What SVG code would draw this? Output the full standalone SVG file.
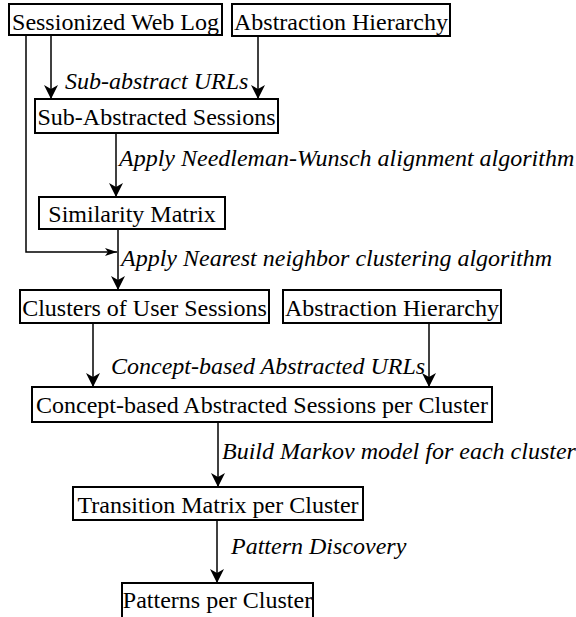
<svg xmlns="http://www.w3.org/2000/svg" width="576" height="617" viewBox="0 0 576 617">
<style>
.box{fill:#fff;stroke:#000;stroke-width:2}
.t{font-size:24px;fill:#000;text-anchor:middle}
.l{font-size:24px;font-style:italic;fill:#000}
.c{fill:none;stroke:#000;stroke-width:1.5}
</style>
<defs>
<marker id="ah" markerUnits="userSpaceOnUse" markerWidth="16" markerHeight="16" viewBox="-1 -8 16 16" refX="14" refY="0" orient="auto">
<path d="M0,-7 L14,0 L0,7 L4,0 z" fill="#000"/>
</marker>
<marker id="ahs" markerUnits="userSpaceOnUse" markerWidth="14" markerHeight="10" viewBox="-1 -5 14 10" refX="12" refY="0" orient="auto">
<path d="M0,-4 L12,0 L0,4 L3,0 z" fill="#000"/>
</marker>
</defs>
<rect width="576" height="617" fill="#fff"/>
<g font-family="Liberation Serif, Times New Roman, Times, Nimbus Roman, DejaVu Serif, serif">
<g id="connectors">
<path class="c" d="M26,35 V252 H117" marker-end="url(#ahs)"/>
<path class="c" d="M51,35 V99" marker-end="url(#ah)"/>
<path class="c" d="M258,36 V99" marker-end="url(#ah)"/>
<path class="c" d="M116,133 V197" marker-end="url(#ah)"/>
<path class="c" d="M118,229 V290" marker-end="url(#ah)"/>
<path class="c" d="M93,323 V387" marker-end="url(#ah)"/>
<path class="c" d="M429,323 V387" marker-end="url(#ah)"/>
<path class="c" d="M218,422 V487" marker-end="url(#ah)"/>
<path class="c" d="M217,520 V583" marker-end="url(#ah)"/>
<text class="l" x="65" y="89">Sub-abstract URLs</text>
<text class="l" x="119" y="166">Apply Needleman-Wunsch alignment algorithm</text>
<text class="l" x="121" y="266">Apply Nearest neighbor clustering algorithm</text>
<text class="l" x="111" y="374">Concept-based Abstracted URLs</text>
<text class="l" x="222" y="459">Build Markov model for each cluster</text>
<text class="l" x="231" y="554">Pattern Discovery</text>
</g>
<g id="n1"><rect class="box" x="9" y="4" width="213" height="31"/><text class="t" x="115.5" y="30">Sessionized Web Log</text></g>
<g id="n2"><rect class="box" x="232" y="4" width="218" height="32"/><text class="t" x="341" y="30">Abstraction Hierarchy</text></g>
<g id="n3"><rect class="box" x="35" y="99" width="243" height="34"/><text class="t" x="156.5" y="125">Sub-Abstracted Sessions</text></g>
<g id="n4"><rect class="box" x="39" y="197" width="186" height="32"/><text class="t" x="132" y="222">Similarity Matrix</text></g>
<g id="n5"><rect class="box" x="20" y="290" width="249" height="33"/><text class="t" x="144.5" y="316">Clusters of User Sessions</text></g>
<g id="n6"><rect class="box" x="283" y="290" width="218" height="33"/><text class="t" x="392" y="316">Abstraction Hierarchy</text></g>
<g id="n7"><rect class="box" x="32" y="387" width="460" height="35"/><text class="t" x="262" y="413">Concept-based Abstracted Sessions per Cluster</text></g>
<g id="n8"><rect class="box" x="73" y="487" width="290" height="33"/><text class="t" x="218" y="513">Transition Matrix per Cluster</text></g>
<g id="n9"><rect class="box" x="122" y="583" width="191" height="50"/><text class="t" x="217.5" y="608">Patterns per Cluster</text></g>
</g>
</svg>
